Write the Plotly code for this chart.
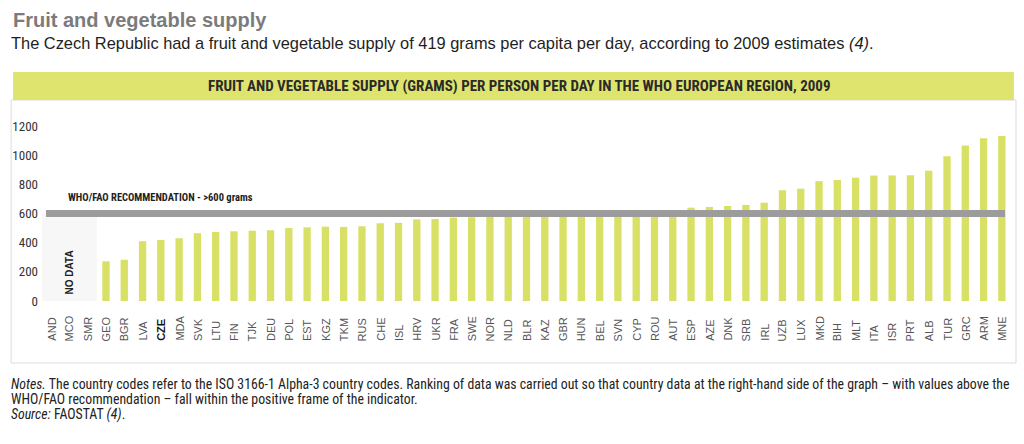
import plotly.graph_objects as go

countries = ["AND", "MCO", "SMR", "GEO", "BGR", "LVA", "CZE", "MDA", "SVK", "LTU",
             "FIN", "TJK", "DEU", "POL", "EST", "KGZ", "TKM", "RUS", "CHE", "ISL",
             "HRV", "UKR", "FRA", "SWE", "NOR", "NLD", "BLR", "KAZ", "GBR", "HUN",
             "BEL", "SVN", "CYP", "ROU", "AUT", "ESP", "AZE", "DNK", "SRB", "IRL",
             "UZB", "LUX", "MKD", "BIH", "MLT", "ITA", "ISR", "PRT", "ALB", "TUR",
             "GRC", "ARM", "MNE"]
supply = [None, None, None, 272, 283, 410, 419, 430, 465, 474,
          478, 482, 485, 500, 505, 510, 508, 512, 533, 536,
          560, 562, 572, 574, 576, 584, 592, 595, 597, 598,
          600, 601, 603, 605, 612, 640, 645, 652, 659, 674,
          760, 770, 822, 830, 845, 860, 861, 862, 893, 993,
          1066, 1116, 1131]
y_ticks = [0, 200, 400, 600, 800, 1000, 1200]
recommendation = 600
highlight = "CZE"

L, R, T, B = 39, 1011, 126, 301


def xp(px):
    return (px - L) / (R - L)


def yp(py):
    return (B - py) / (B - T)


NARROW = "Liberation Sans Narrow, Arial Narrow, Roboto Condensed, sans-serif"
SANS = "Liberation Sans, Arial, sans-serif"

fig = go.Figure()
fig.add_trace(go.Bar(
    x=countries, y=supply,
    marker=dict(color="#d9e066", line=dict(width=0)),
    hoverinfo="x+y",
))

shapes = [
    dict(type="rect", xref="paper", yref="paper", x0=xp(8), x1=xp(1016),
         y0=yp(363), y1=yp(100), line=dict(color="#dcdcdc", width=1),
         fillcolor="rgba(0,0,0,0)", layer="below"),
    dict(type="rect", xref="paper", yref="paper", x0=xp(10), x1=xp(1014),
         y0=yp(100), y1=yp(72), line=dict(width=0), fillcolor="#dfe46e",
         layer="below"),
    dict(type="rect", xref="x", yref="y", x0=-0.5, x1=2.5, y0=0, y1=recommendation,
         line=dict(width=0), fillcolor="#f7f7f7", layer="below"),
    dict(type="line", xref="paper", yref="y", x0=xp(43), x1=xp(1005),
         y0=recommendation, y1=recommendation,
         line=dict(color="#9c9c9c", width=7), layer="above"),
]

annotations = [
    dict(text="<b>Fruit and vegetable supply</b>", xref="paper", yref="paper",
         x=xp(8), y=yp(20), xanchor="left", yanchor="middle", showarrow=False,
         font=dict(family=SANS, size=20, color="#7b7b7b")),
    dict(text="The Czech Republic had a fruit and vegetable supply of 419 grams per capita "
              "per day, according to 2009 estimates <i>(4)</i>.",
         xref="paper", yref="paper", x=xp(6), y=yp(43), xanchor="left",
         yanchor="middle", showarrow=False,
         font=dict(family=SANS, size=16.4, color="#1e1e1e")),
    dict(text="<b>FRUIT AND VEGETABLE SUPPLY (GRAMS) PER PERSON PER DAY IN THE WHO "
              "EUROPEAN REGION, 2009</b>",
         xref="paper", yref="paper", x=xp(517), y=yp(86), xanchor="center",
         yanchor="middle", showarrow=False,
         font=dict(family=NARROW, size=15, color="#2a2a2a")),
    dict(text="<b>WHO/FAO RECOMMENDATION - >600 grams</b>", xref="paper",
         yref="paper", x=xp(63), y=yp(197), xanchor="left", yanchor="middle",
         showarrow=False, font=dict(family=NARROW, size=10.5, color="#1e1e1e")),
    dict(text="<b>NO DATA</b>", xref="x", yref="paper", x=1, y=yp(272),
         textangle=-90, showarrow=False, xanchor="center", yanchor="middle",
         font=dict(family=SANS, size=10, color="#1e1e1e")),
    dict(text="<i>Notes.</i> The country codes refer to the ISO 3166-1 Alpha-3 country codes. "
              "Ranking of data was carried out so that country data at the right-hand side "
              "of the graph \u2013 with values above the",
         xref="paper", yref="paper", x=xp(6), y=yp(384), xanchor="left",
         yanchor="middle", showarrow=False,
         font=dict(family=NARROW, size=13.8, color="#222")),
    dict(text="WHO/FAO recommendation \u2013 fall within the positive frame of the indicator.",
         xref="paper", yref="paper", x=xp(6), y=yp(399), xanchor="left",
         yanchor="middle", showarrow=False,
         font=dict(family=NARROW, size=13.8, color="#222")),
    dict(text="<i>Source:</i> FAOSTAT <i>(4)</i>.",
         xref="paper", yref="paper", x=xp(6), y=yp(414), xanchor="left",
         yanchor="middle", showarrow=False,
         font=dict(family=NARROW, size=13.8, color="#222")),
]

for c in countries:
    bold = c == highlight
    annotations.append(dict(
        text=f"<b>{c}</b>" if bold else c, xref="x", yref="paper", x=c, y=yp(343),
        textangle=-90, showarrow=False, xanchor="center", yanchor="bottom",
        font=dict(family=SANS, size=11, color="#111" if bold else "#555"),
    ))

fig.update_layout(
    width=1024, height=444,
    margin=dict(l=L, r=1024 - R, t=T, b=444 - B, pad=0),
    paper_bgcolor="white", plot_bgcolor="white",
    showlegend=False,
    bargap=0.6,
    shapes=shapes,
    annotations=annotations,
    xaxis=dict(type="category", categoryorder="array", categoryarray=countries,
               range=[-0.5, len(countries) - 0.5], showticklabels=False,
               showgrid=False, zeroline=False, showline=False, ticks=""),
    yaxis=dict(range=[0, 1200], tickvals=y_ticks, showgrid=False, zeroline=False,
               showline=False, ticks="", ticklabelstandoff=3,
               tickfont=dict(family=NARROW, size=13, color="#333")),
)

fig.write_html("out.html")
